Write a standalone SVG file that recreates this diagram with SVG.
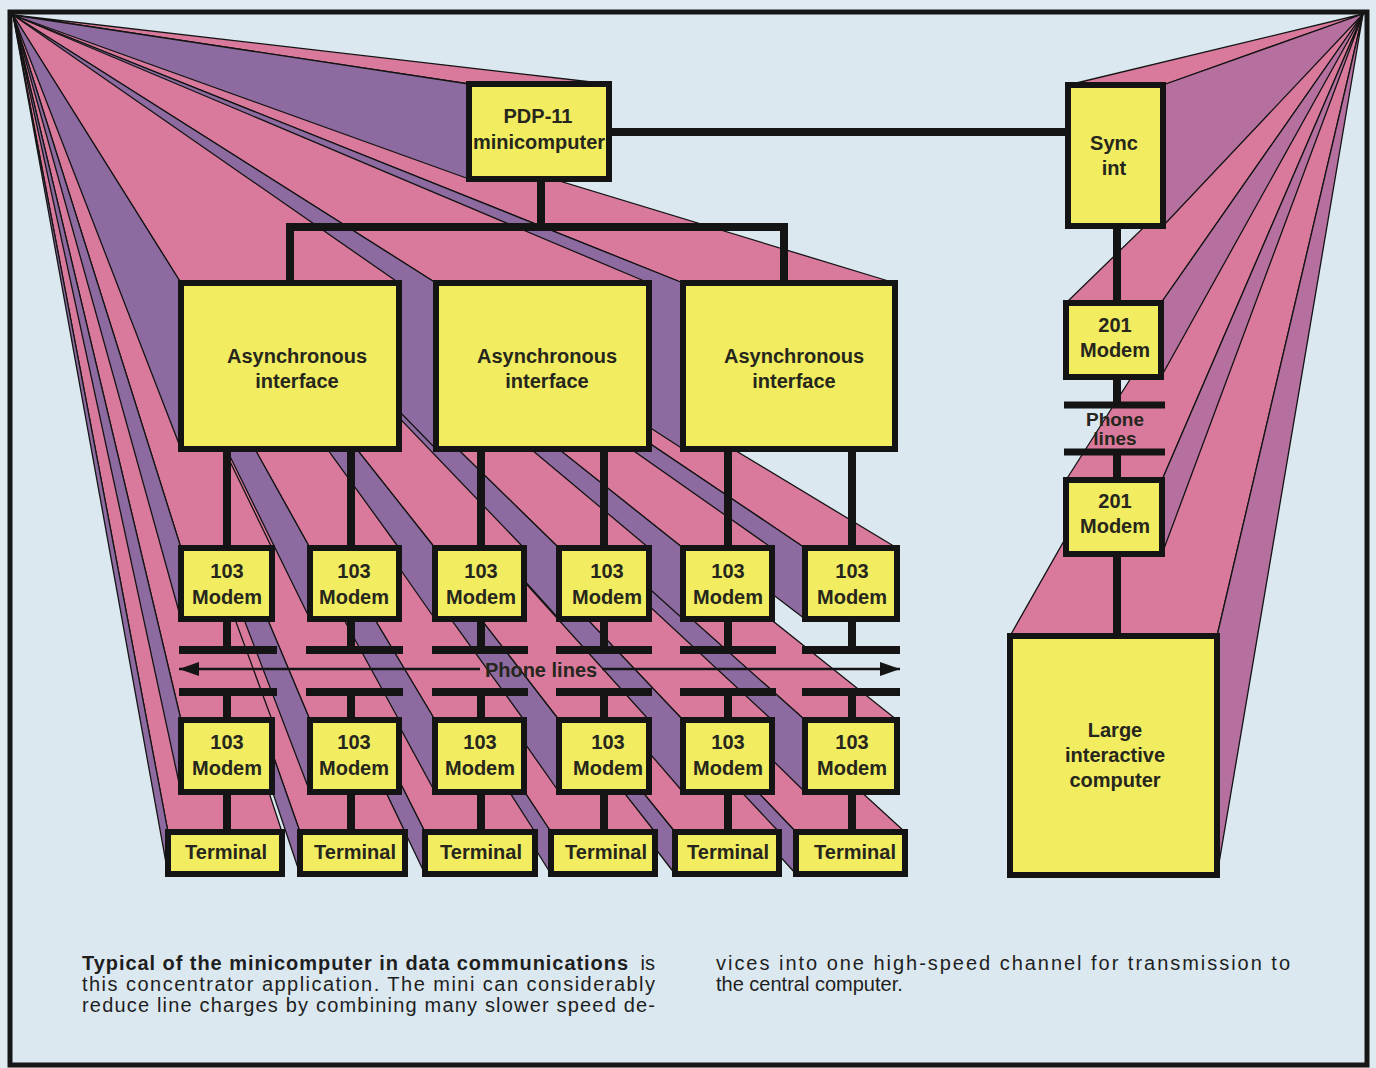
<svg xmlns="http://www.w3.org/2000/svg" width="1376" height="1068" viewBox="0 0 1376 1068">
<style>
.tp{fill:#d97a9c;stroke:#141414;stroke-width:1.3;stroke-linejoin:round}
.ls{fill:#8d6ba0;stroke:#141414;stroke-width:1.3;stroke-linejoin:round}
.rs{fill:#b5709f;stroke:#141414;stroke-width:1.3;stroke-linejoin:round}
.box{fill:#f1ec60;stroke:#141414;stroke-width:6}
.lbl{font-family:"Liberation Sans",Arial,sans-serif;font-weight:bold;font-size:20px;fill:#26261c;text-anchor:middle}
.w{stroke:#141414;stroke-width:8;fill:none}
.cap{font-family:"Liberation Sans",Arial,sans-serif;font-size:20px;fill:#1e1e1e}
</style>
<defs>
<marker id="ah" viewBox="0 0 20 14" refX="20" refY="7" markerWidth="20" markerHeight="14" markerUnits="userSpaceOnUse" orient="auto-start-reverse">
<path d="M0,0 L20,7 L0,14 z" fill="#141414"/>
</marker>
</defs>
<rect x="0" y="0" width="1376" height="1068" fill="#dfeaf1"/>
<rect x="10" y="12" width="1357" height="1053" fill="#dbe8f0" stroke="#161616" stroke-width="5"/>

<g id="depth">
<polygon class="tp" points="13,15 796,832 905,832"/><polygon class="ls" points="13,15 796,832 796,874"/>
<polygon class="tp" points="13,15 805,720 897,720"/><polygon class="ls" points="13,15 805,720 805,792"/>
<polygon class="tp" points="13,15 675,832 779,832"/><polygon class="ls" points="13,15 675,832 675,874"/>
<polygon class="tp" points="13,15 551,832 655,832"/><polygon class="ls" points="13,15 551,832 551,874"/>
<polygon class="tp" points="13,15 683,720 772,720"/><polygon class="ls" points="13,15 683,720 683,792"/>
<polygon class="tp" points="13,15 805,548 897,548"/><polygon class="ls" points="13,15 805,548 805,619"/>
<polygon class="tp" points="13,15 425,832 535,832"/><polygon class="ls" points="13,15 425,832 425,874"/>
<polygon class="tp" points="13,15 559,720 649,720"/><polygon class="ls" points="13,15 559,720 559,792"/>
<polygon class="tp" points="13,15 300,832 405,832"/><polygon class="ls" points="13,15 300,832 300,874"/>
<polygon class="tp" points="13,15 683,548 772,548"/><polygon class="ls" points="13,15 683,548 683,619"/>
<polygon class="tp" points="13,15 168,832 282,832"/><polygon class="ls" points="13,15 168,832 168,874"/>
<polygon class="tp" points="13,15 435,720 524,720"/><polygon class="ls" points="13,15 435,720 435,792"/>
<polygon class="tp" points="13,15 310,720 399,720"/><polygon class="ls" points="13,15 310,720 310,792"/>
<polygon class="tp" points="13,15 559,548 649,548"/><polygon class="ls" points="13,15 559,548 559,619"/>
<polygon class="tp" points="13,15 181,720 272,720"/><polygon class="ls" points="13,15 181,720 181,792"/>
<polygon class="tp" points="13,15 683,283 895,283"/><polygon class="ls" points="13,15 683,283 683,449"/>
<polygon class="tp" points="13,15 435,548 524,548"/><polygon class="ls" points="13,15 435,548 435,619"/>
<polygon class="tp" points="13,15 310,548 399,548"/><polygon class="ls" points="13,15 310,548 310,619"/>
<polygon class="tp" points="13,15 181,548 272,548"/><polygon class="ls" points="13,15 181,548 181,619"/>
<polygon class="tp" points="13,15 436,283 649,283"/><polygon class="ls" points="13,15 436,283 436,449"/>
<polygon class="tp" points="13,15 469,84 609,84"/><polygon class="ls" points="13,15 469,84 469,179"/>
<polygon class="tp" points="13,15 181,283 399,283"/><polygon class="ls" points="13,15 181,283 181,449"/>
<polygon class="tp" points="1363,14 1010,636 1217,636"/><polygon class="rs" points="1363,14 1217,636 1217,875"/>
<polygon class="tp" points="1363,14 1066,480 1162,480"/><polygon class="rs" points="1363,14 1162,480 1162,554"/>
<polygon class="tp" points="1363,14 1066,303 1161,303"/><polygon class="rs" points="1363,14 1161,303 1161,377"/>
<polygon class="tp" points="1363,14 1068,85 1163,85"/><polygon class="rs" points="1363,14 1163,85 1163,226"/>
</g>

<g id="connectors">
<path class="w" d="M612,132 H1066"/>
<path class="w" d="M541,182 V227 M290,281 V227 H784 V281"/>
<path class="w" d="M227,452 V546 M351,452 V546 M481,452 V546 M604,452 V546 M728,452 V546 M852,452 V546"/>
<path class="w" d="M227,622 V650 M351,622 V650 M481,622 V650 M604,622 V650 M728,622 V650 M852,622 V650"/>
<path class="w" d="M227,692 V718 M351,692 V718 M481,692 V718 M604,692 V718 M728,692 V718 M852,692 V718"/>
<path class="w" d="M227,795 V830 M351,795 V830 M481,795 V830 M604,795 V830 M728,795 V830 M852,795 V830"/>
<path class="w" d="M179,650 H277 M306,650 H403 M432,650 H528 M556,650 H652 M680,650 H776 M802,650 H900"/>
<path class="w" d="M179,692 H277 M306,692 H403 M432,692 H528 M556,692 H652 M680,692 H776 M802,692 H900"/>
<line x1="480" y1="669" x2="179" y2="669" stroke="#141414" stroke-width="2.5" marker-end="url(#ah)"/>
<line x1="602" y1="669" x2="900" y2="669" stroke="#141414" stroke-width="2.5" marker-end="url(#ah)"/>
<text class="lbl" x="541" y="677">Phone lines</text>
<path class="w" d="M1117,229 V301 M1117,380 V405 M1117,452 V478 M1117,557 V634"/>
<path d="M1064,405 H1165 M1064,452 H1165" stroke="#141414" stroke-width="7"/>
<text class="lbl" x="1115" y="426" style="font-size:19px">Phone</text>
<text class="lbl" x="1115" y="445" style="font-size:19px">lines</text>
</g>

<g id="pdp11"><rect class="box" x="469" y="84" width="140" height="95"/><text class="lbl" x="538" y="123">PDP-11</text><text class="lbl" x="539" y="149">minicomputer</text></g>
<g id="async1"><rect class="box" x="181" y="283" width="218" height="166"/><text class="lbl" x="297" y="363">Asynchronous</text><text class="lbl" x="297" y="388">interface</text></g>
<g id="async2"><rect class="box" x="436" y="283" width="213" height="166"/><text class="lbl" x="547" y="363">Asynchronous</text><text class="lbl" x="547" y="388">interface</text></g>
<g id="async3"><rect class="box" x="683" y="283" width="212" height="166"/><text class="lbl" x="794" y="363">Asynchronous</text><text class="lbl" x="794" y="388">interface</text></g>

<g id="modemA1"><rect class="box" x="181" y="548" width="91" height="71"/><text class="lbl" x="227" y="578">103</text><text class="lbl" x="227" y="604">Modem</text></g>
<g id="modemA2"><rect class="box" x="310" y="548" width="89" height="71"/><text class="lbl" x="354" y="578">103</text><text class="lbl" x="354" y="604">Modem</text></g>
<g id="modemA3"><rect class="box" x="435" y="548" width="89" height="71"/><text class="lbl" x="481" y="578">103</text><text class="lbl" x="481" y="604">Modem</text></g>
<g id="modemA4"><rect class="box" x="559" y="548" width="90" height="71"/><text class="lbl" x="607" y="578">103</text><text class="lbl" x="607" y="604">Modem</text></g>
<g id="modemA5"><rect class="box" x="683" y="548" width="89" height="71"/><text class="lbl" x="728" y="578">103</text><text class="lbl" x="728" y="604">Modem</text></g>
<g id="modemA6"><rect class="box" x="805" y="548" width="92" height="71"/><text class="lbl" x="852" y="578">103</text><text class="lbl" x="852" y="604">Modem</text></g>

<g id="modemB1"><rect class="box" x="181" y="720" width="91" height="72"/><text class="lbl" x="227" y="749">103</text><text class="lbl" x="227" y="775">Modem</text></g>
<g id="modemB2"><rect class="box" x="310" y="720" width="89" height="72"/><text class="lbl" x="354" y="749">103</text><text class="lbl" x="354" y="775">Modem</text></g>
<g id="modemB3"><rect class="box" x="435" y="720" width="89" height="72"/><text class="lbl" x="480" y="749">103</text><text class="lbl" x="480" y="775">Modem</text></g>
<g id="modemB4"><rect class="box" x="559" y="720" width="90" height="72"/><text class="lbl" x="608" y="749">103</text><text class="lbl" x="608" y="775">Modem</text></g>
<g id="modemB5"><rect class="box" x="683" y="720" width="89" height="72"/><text class="lbl" x="728" y="749">103</text><text class="lbl" x="728" y="775">Modem</text></g>
<g id="modemB6"><rect class="box" x="805" y="720" width="92" height="72"/><text class="lbl" x="852" y="749">103</text><text class="lbl" x="852" y="775">Modem</text></g>

<g id="term1"><rect class="box" x="168" y="832" width="114" height="42"/><text class="lbl" x="226" y="859">Terminal</text></g>
<g id="term2"><rect class="box" x="300" y="832" width="105" height="42"/><text class="lbl" x="355" y="859">Terminal</text></g>
<g id="term3"><rect class="box" x="425" y="832" width="110" height="42"/><text class="lbl" x="481" y="859">Terminal</text></g>
<g id="term4"><rect class="box" x="551" y="832" width="104" height="42"/><text class="lbl" x="606" y="859">Terminal</text></g>
<g id="term5"><rect class="box" x="675" y="832" width="104" height="42"/><text class="lbl" x="728" y="859">Terminal</text></g>
<g id="term6"><rect class="box" x="796" y="832" width="109" height="42"/><text class="lbl" x="855" y="859">Terminal</text></g>

<g id="syncint"><rect class="box" x="1068" y="85" width="95" height="141"/><text class="lbl" x="1114" y="150">Sync</text><text class="lbl" x="1114" y="175">int</text></g>
<g id="modem201a"><rect class="box" x="1066" y="303" width="95" height="74"/><text class="lbl" x="1115" y="332">201</text><text class="lbl" x="1115" y="357">Modem</text></g>
<g id="modem201b"><rect class="box" x="1066" y="480" width="96" height="74"/><text class="lbl" x="1115" y="508">201</text><text class="lbl" x="1115" y="533">Modem</text></g>
<g id="large"><rect class="box" x="1010" y="636" width="207" height="239"/><text class="lbl" x="1115" y="737">Large</text><text class="lbl" x="1115" y="762">interactive</text><text class="lbl" x="1115" y="787">computer</text></g>

<g id="caption">
<text class="cap" x="82" y="970" font-weight="bold" textLength="546" lengthAdjust="spacing">Typical of the minicomputer in data communications</text>
<text class="cap" x="655" y="970" text-anchor="end">is</text>
<text class="cap" x="82" y="991" textLength="573" lengthAdjust="spacing">this concentrator application. The mini can considerably</text>
<text class="cap" x="82" y="1012" textLength="573" lengthAdjust="spacing">reduce line charges by combining many slower speed de-</text>
<text class="cap" x="716" y="970" textLength="574" lengthAdjust="spacing">vices into one high-speed channel for transmission to</text>
<text class="cap" x="716" y="991">the central computer.</text>
</g>
</svg>
